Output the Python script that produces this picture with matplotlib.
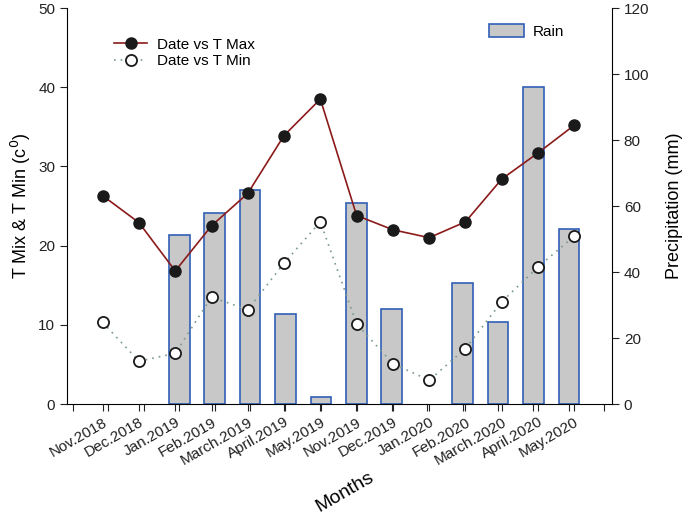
import numpy as np
import matplotlib
matplotlib.use("Agg")
import matplotlib.pyplot as plt

plt.rcParams['font.family'] = ['Liberation Sans', 'DejaVu Sans']

months = ["Nov.2018", "Dec.2018", "Jan.2019", "Feb.2019", "March.2019", "April.2019",
          "May.2019", "Nov.2019", "Dec.2019", "Jan.2020", "Feb.2020", "March.2020",
          "April.2020", "May.2020"]
t_max = [26.3, 22.9, 16.8, 22.5, 26.6, 33.9, 38.5, 23.8, 22.0, 21.0, 23.0, 28.4, 31.7, 35.2]
t_min = [10.3, 5.4, 6.4, 13.5, 11.9, 17.8, 23.0, 10.1, 5.1, 3.0, 7.0, 12.9, 17.3, 21.2]
# no rain bar for Nov/Dec 2018 and Jan 2020
rain = [np.nan, np.nan, 51.1, 58.0, 65.0, 27.2, 2.1, 61.0, 28.7, np.nan, 36.7, 24.8, 96.2, 53.0]

fig = plt.figure(figsize=(6.85, 5.25), dpi=100)
rect = [67 / 685, 1 - 404 / 525, (612 - 67) / 685, (404 - 8) / 525]

# bar axes (right y axis), slightly different x spacing like the original
axb = fig.add_axes(rect)
xb = np.arange(len(months))
axb.bar(xb, rain, width=0.58, color="#c8c8c8", edgecolor="#3060b8", linewidth=1.2,
        label="Rain")
axb.set_xlim(-1.169, 14.22)
axb.set_ylim(0, 120)
axb.set_xticks(np.arange(-1, 15))
axb.set_xticklabels([])
axb.yaxis.tick_right()
axb.yaxis.set_label_position("right")
axb.set_yticks(np.arange(0, 121, 20))
axb.set_ylabel("Precipitation (mm)", fontsize=13, labelpad=12)
for s in ["top", "left"]:
    axb.spines[s].set_visible(False)
axb.tick_params(direction="out", length=5, labelsize=11, colors="#222222")

# line axes (left y axis)
axl = fig.add_axes(rect)
axl.patch.set_alpha(0)
xl = np.arange(len(months))
axl.plot(xl, t_max, color="#8b1a1a", lw=1.2, marker="o", ms=8,
         mfc="#1a1a1a", mec="#1a1a1a", label="Date vs T Max")
axl.plot(xl, t_min, color="#7a9a8a", lw=1.2, ls=(0, (1, 3)), marker="o", ms=8,
         mfc="white", mec="#1a1a1a", mew=1.3, label="Date vs T Min")
axl.set_xlim(-0.984, 14.04)
axl.set_ylim(0, 50)
axl.set_xticks(xl)
axl.set_xticklabels(months, rotation=30, ha="right", rotation_mode="anchor", fontsize=11)
axl.set_yticks(np.arange(0, 51, 10))
axl.set_ylabel("T Mix & T Min (c$^0$)", fontsize=13)
for s in ["top", "right", "bottom"]:
    axl.spines[s].set_visible(False)
axl.tick_params(direction="out", length=5, labelsize=11, colors="#222222")
axl.tick_params(axis="x", pad=3)

axl.legend(loc="upper left", bbox_to_anchor=(100 / 685, 1 - 24 / 525),
           bbox_transform=fig.transFigure, frameon=False, fontsize=11,
           handlelength=2.2, labelspacing=0.15, handletextpad=0.6)
axb.legend(loc="upper left", bbox_to_anchor=(475 / 685, 1 - 10 / 525),
           bbox_transform=fig.transFigure, frameon=False, fontsize=11,
           handlelength=2.3, handleheight=1.0, handletextpad=0.6)

fig.text(345 / 685, 1 - 492 / 525, "Months", rotation=30, ha="center", va="center",
         fontsize=14)

fig.savefig("out.png", dpi=100)
